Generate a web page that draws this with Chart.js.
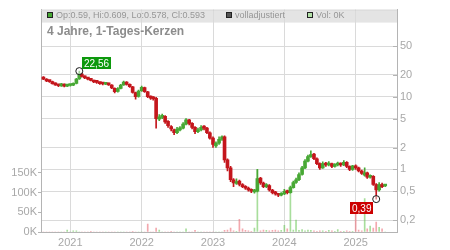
<!DOCTYPE html>
<html lang="de">
<head>
<meta charset="utf-8">
<title>4 Jahre, 1-Tages-Kerzen</title>
<script src="https://cdn.jsdelivr.net/npm/chart.js@4.4.1/dist/chart.umd.min.js"></script>
<style>
  html, body { margin: 0; padding: 0; background: #fff; }
  #wrap { width: 450px; height: 250px; }
</style>
</head>
<body>
<div id="wrap"><canvas id="priceChart" width="450" height="250"></canvas></div>
<script>
// ==========================================
// DATA (half-monthly candles)
// ==========================================

const dates = [
  "2020-08-16", "2020-09-01", "2020-09-16", "2020-10-01", "2020-10-16", "2020-11-01", "2020-11-16", "2020-12-01", "2020-12-16",
  "2021-01-01", "2021-01-16", "2021-02-01", "2021-02-16", "2021-03-01", "2021-03-16", "2021-04-01", "2021-04-16", "2021-05-01", "2021-05-16", "2021-06-01", "2021-06-16",
  "2021-07-01", "2021-07-16", "2021-08-01", "2021-08-16", "2021-09-01", "2021-09-16", "2021-10-01", "2021-10-16", "2021-11-01", "2021-11-16", "2021-12-01", "2021-12-16",
  "2022-01-01", "2022-01-16", "2022-02-01", "2022-02-16", "2022-03-01", "2022-03-16", "2022-04-01", "2022-04-16", "2022-05-01", "2022-05-16", "2022-06-01", "2022-06-16",
  "2022-07-01", "2022-07-16", "2022-08-01", "2022-08-16", "2022-09-01", "2022-09-16", "2022-10-01", "2022-10-16", "2022-11-01", "2022-11-16", "2022-12-01", "2022-12-16",
  "2023-01-01", "2023-01-16", "2023-02-01", "2023-02-16", "2023-03-01", "2023-03-16", "2023-04-01", "2023-04-16", "2023-05-01", "2023-05-16", "2023-06-01", "2023-06-16",
  "2023-07-01", "2023-07-16", "2023-08-01", "2023-08-16", "2023-09-01", "2023-09-16", "2023-10-01", "2023-10-16", "2023-11-01", "2023-11-16", "2023-12-01", "2023-12-16",
  "2024-01-01", "2024-01-16", "2024-02-01", "2024-02-16", "2024-03-01", "2024-03-16", "2024-04-01", "2024-04-16", "2024-05-01", "2024-05-16", "2024-06-01", "2024-06-16",
  "2024-07-01", "2024-07-16", "2024-08-01", "2024-08-16", "2024-09-01", "2024-09-16", "2024-10-01", "2024-10-16", "2024-11-01", "2024-11-16", "2024-12-01", "2024-12-16",
  "2025-01-01", "2025-01-16", "2025-02-01", "2025-02-16", "2025-03-01", "2025-03-16", "2025-04-01", "2025-04-16", "2025-05-01", "2025-05-16", "2025-06-01"
];

const openValues = [
  18.6, 17.5, 16.4, 16.1, 15.0, 14.5, 14.1, 14.9, 14.0,
  14.3, 14.4, 15.3, 17.6, 20.6, 19.1, 18.0, 17.6, 16.7, 15.9, 15.7, 15.1,
  14.9, 15.3, 14.5, 13.1, 11.9, 13.0, 14.6, 15.9, 14.9, 13.7, 11.4, 10.1,
  12.1, 13.4, 11.7, 10.0, 9.5, 9.5, 4.9, 5.2, 5.4, 4.6, 3.9, 3.5,
  3.2, 3.5, 3.7, 4.2, 4.8, 4.3, 3.8, 3.3, 3.5, 3.9, 3.7, 3.2,
  2.7, 2.1, 2.3, 2.6, 2.8, 1.35, 1.05, 0.72, 0.64, 0.69, 0.62, 0.58,
  0.55, 0.52, 0.49, 0.5, 0.76, 0.65, 0.58, 0.6, 0.52, 0.48, 0.46, 0.44,
  0.46, 0.5, 0.48, 0.56, 0.66, 0.72, 0.85, 1.05, 1.3, 1.5, 1.62, 1.4,
  1.2, 1.05, 1.21, 1.15, 1.2, 1.1, 1.15, 1.2, 1.15, 1.25, 1.1, 1.0,
  1.12, 1.05, 0.95, 0.83, 0.9, 0.78, 0.8, 0.62, 0.52, 0.62, 0.59
];

const highValues = [
  19.0, 17.8, 16.9, 16.4, 15.6, 14.9, 15.3, 15.1, 14.8,
  14.9, 15.6, 18.0, 22.56, 21.2, 19.4, 18.6, 17.9, 17.0, 16.4, 16.0, 15.6,
  15.8, 15.5, 14.7, 13.3, 13.4, 14.9, 16.4, 16.2, 15.1, 13.9, 11.6, 12.4,
  14.0, 13.6, 11.9, 10.3, 10.1, 9.8, 5.7, 5.8, 5.5, 4.7, 4.0, 3.6,
  3.8, 3.9, 4.4, 5.0, 4.9, 4.4, 3.9, 3.7, 4.0, 4.0, 3.8, 3.3,
  2.8, 2.4, 2.8, 2.9, 2.9, 1.4, 1.1, 0.75, 0.74, 0.71, 0.64, 0.6,
  0.57, 0.54, 0.53, 1.0, 0.78, 0.67, 0.64, 0.62, 0.53, 0.5, 0.47, 0.48,
  0.53, 0.52, 0.59, 0.69, 0.76, 0.9, 1.1, 1.36, 1.58, 1.8, 1.66, 1.44,
  1.23, 1.27, 1.25, 1.28, 1.22, 1.2, 1.26, 1.23, 1.32, 1.28, 1.12, 1.14,
  1.16, 1.08, 0.98, 1.05, 0.92, 0.84, 0.82, 0.64, 0.66, 0.65, 0.609
];

const lowValues = [
  17.2, 16.2, 15.8, 14.9, 14.3, 13.8, 13.9, 13.7, 13.8,
  14.0, 14.2, 15.0, 17.3, 18.6, 17.8, 17.1, 16.5, 15.6, 15.3, 14.8, 14.6,
  14.7, 14.3, 12.9, 11.3, 11.6, 12.8, 14.3, 14.5, 13.5, 11.2, 9.3, 9.9,
  11.9, 11.5, 9.7, 9.2, 9.0, 3.7, 4.7, 5.0, 4.3, 3.8, 3.4, 3.0,
  3.1, 3.4, 3.6, 4.1, 4.1, 3.6, 3.1, 3.2, 3.4, 3.5, 3.1, 2.6,
  2.0, 2.0, 2.2, 2.5, 1.25, 0.95, 0.68, 0.58, 0.62, 0.59, 0.56, 0.53,
  0.5, 0.48, 0.47, 0.49, 0.62, 0.56, 0.56, 0.5, 0.46, 0.44, 0.42, 0.43,
  0.45, 0.46, 0.47, 0.55, 0.64, 0.7, 0.83, 1.02, 1.27, 1.46, 1.36, 1.16,
  1.0, 1.03, 1.1, 1.12, 1.06, 1.07, 1.12, 1.1, 1.13, 1.06, 0.96, 0.97,
  1.0, 0.92, 0.85, 0.81, 0.75, 0.76, 0.6, 0.39, 0.5, 0.56, 0.578
];

const closeValues = [
  17.5, 16.5, 16.2, 15.2, 14.6, 14.2, 14.8, 14.0, 14.4,
  14.5, 15.2, 17.5, 20.5, 19.0, 18.2, 17.5, 16.8, 16.0, 15.8, 15.2, 15.0,
  15.3, 14.6, 13.2, 11.8, 13.0, 14.5, 16.0, 14.8, 13.8, 11.5, 10.0, 12.0,
  13.5, 11.8, 10.0, 9.6, 9.4, 5.0, 5.3, 5.5, 4.5, 4.0, 3.6, 3.2,
  3.6, 3.7, 4.2, 4.8, 4.3, 3.8, 3.3, 3.5, 3.8, 3.7, 3.2, 2.7,
  2.2, 2.3, 2.6, 2.8, 1.35, 1.05, 0.72, 0.65, 0.68, 0.62, 0.58, 0.55,
  0.52, 0.5, 0.5, 0.75, 0.65, 0.58, 0.6, 0.52, 0.48, 0.46, 0.44, 0.46,
  0.5, 0.48, 0.56, 0.66, 0.72, 0.85, 1.05, 1.3, 1.5, 1.6, 1.4, 1.2,
  1.05, 1.2, 1.15, 1.2, 1.1, 1.15, 1.2, 1.15, 1.25, 1.1, 1.0, 1.12,
  1.05, 0.95, 0.88, 0.9, 0.78, 0.8, 0.62, 0.52, 0.62, 0.58, 0.593
];

// volume in thousands
const volumeValues = [
  0, 0, 0, 0, 0, 0, 0, 0, 5,
  0, 3, 3, 0, 0, 0, 0, 1, 0, 0, 0, 0,
  0, 0, 0, 0, 0, 0, 0, 0, 0, 1, 0, 0,
  0, 0, 20, 0, 0, 10, 5, 0, 0, 0, 2, 0,
  0, 0, 0, 8, 0, 0, 4, 0, 0, 0, 0, 0,
  0, 0, 0, 0, 4, 5, 10, 3, 2, 32, 8, 4,
  3, 2, 10, 158, 3, 5, 4, 3, 4, 5, 3, 4,
  17, 8, 115, 5, 30, 4, 6, 3, 5, 4, 3, 2,
  3, 3, 2, 4, 3, 2, 6, 2, 1, 3, 2, 2,
  47, 5, 3, 85, 8, 15, 10, 25, 12, 8, 0
];

const yearTicks = [2021, 2022, 2023, 2024, 2025];
const priceTicks = [0.2, 0.5, 1, 2, 5, 10, 20, 50];
const volumeTicks = [0, 50000, 100000, 150000];

const chartTitle = "4 Jahre, 1-Tages-Kerzen";

// ==========================================
// HELPERS
// ==========================================

const FONT = "'Liberation Sans', Arial, sans-serif";
const UP_COLOR = "#47a834";
const DOWN_COLOR = "#c4161c";
const GRID_COLOR = "#dadada";
const AXIS_COLOR = "#b4b4b4";
const TICK_COLOR = "#a8a8a8";

function toYear(dateStr) {
  const [y, m, d] = dateStr.split("-").map(Number);
  const start = Date.UTC(y, 0, 1);
  const end = Date.UTC(y + 1, 0, 1);
  return y + (Date.UTC(y, m - 1, d) - start) / (end - start);
}

function isUp(i) {
  return closeValues[i] >= openValues[i];
}

function formatDe(value) {
  return String(value).replace(".", ",");
}

const xValues = dates.map(toYear);
const last = dates.length - 1;

// highest high / lowest low for the markers
let peakIdx = 0;
let lowIdx = 0;
highValues.forEach((v, i) => { if (v > highValues[peakIdx]) peakIdx = i; });
lowValues.forEach((v, i) => { if (v < lowValues[lowIdx]) lowIdx = i; });

// ==========================================
// DECORATION PLUGIN (legend row, title, tags)
// ==========================================

function drawTag(ctx, text, x, y, color) {
  ctx.font = "10px " + FONT;
  const w = Math.round(ctx.measureText(text).width) + 4;
  ctx.fillStyle = color;
  ctx.fillRect(x, y, w, 12);
  ctx.fillStyle = "#ffffff";
  ctx.textAlign = "left";
  ctx.textBaseline = "alphabetic";
  ctx.fillText(text, x + 2, y + 10);
  return w;
}

const decorPlugin = {
  id: "decor",
  beforeDraw(chart) {
    const { ctx, chartArea } = chart;
    ctx.save();
    ctx.fillStyle = "#e4e4e4";
    ctx.fillRect(chartArea.left, chartArea.top + 1, chartArea.right - chartArea.left, 12);
    ctx.restore();
  },
  beforeDatasetsDraw(chart) {
    const { ctx, chartArea } = chart;
    const left = chartArea.left;
    ctx.save();

    ctx.strokeStyle = "#cfcfcf";
    ctx.lineWidth = 1;
    ctx.beginPath();
    ctx.moveTo(left, chartArea.top + 0.5);
    ctx.lineTo(chartArea.right, chartArea.top + 0.5);
    ctx.stroke();

    // short tick marks on the inside of the price axis
    const ys = chart.scales.yPrice;
    ctx.strokeStyle = AXIS_COLOR;
    ctx.beginPath();
    priceTicks.forEach((v) => {
      const y = Math.round(ys.getPixelForValue(v)) + 0.5;
      ctx.moveTo(chartArea.right - 4, y);
      ctx.lineTo(chartArea.right, y);
    });
    ctx.stroke();

    const legend = [
      { x: left + 6, fill: UP_COLOR, text: `Op:${openValues[last]}, Hi:${highValues[last]}, Lo:${lowValues[last]}, Cl:${closeValues[last]}` },
      { x: left + 185, fill: "#555555", text: "volladjustiert" },
      { x: left + 266, fill: "#b3e2a8", text: `Vol: ${volumeValues[last]}K` },
    ];
    ctx.font = "9px " + FONT;
    ctx.textBaseline = "alphabetic";
    legend.forEach((item) => {
      ctx.fillStyle = item.fill;
      ctx.fillRect(item.x, 12, 6, 6);
      ctx.strokeStyle = "#222222";
      ctx.strokeRect(item.x + 0.5, 12.5, 5, 5);
      ctx.fillStyle = "#969696";
      ctx.fillText(item.text, item.x + 9, 18);
    });

    ctx.font = "bold 12px " + FONT;
    ctx.fillStyle = "#8c8c8c";
    ctx.fillText(chartTitle, left + 6, 35);
    ctx.restore();
  },
  afterDatasetsDraw(chart) {
    const { ctx } = chart;
    const xs = chart.scales.x;
    const ys = chart.scales.yPrice;
    ctx.save();

    const px = xs.getPixelForValue(xValues[peakIdx]);
    const py = ys.getPixelForValue(highValues[peakIdx]);
    drawTag(ctx, formatDe(highValues[peakIdx].toFixed(2)), Math.round(px + 3), Math.round(py - 14), "#0d990d");

    const lx = xs.getPixelForValue(xValues[lowIdx]);
    const ly = ys.getPixelForValue(lowValues[lowIdx]);
    const text = formatDe(lowValues[lowIdx].toFixed(2));
    ctx.font = "10px " + FONT;
    const w = Math.round(ctx.measureText(text).width) + 4;
    drawTag(ctx, text, Math.round(lx - 3 - w), Math.round(ly + 3), "#cc0000");
    ctx.restore();
  },
};

// ==========================================
// CHART
// ==========================================

function initChart() {
  const ctx = document.getElementById("priceChart");
  Chart.defaults.font.family = FONT;

  const wicks = xValues.map((x, i) => ({ x: x, y: [lowValues[i], highValues[i]] }));
  const bodies = xValues.map((x, i) => ({ x: x, y: [openValues[i], closeValues[i]] }));
  const volumes = xValues.map((x, i) => ({ x: x, y: volumeValues[i] * 1000 }));
  const candleColors = xValues.map((x, i) => (isUp(i) ? UP_COLOR : DOWN_COLOR));
  const volumeColors = xValues.map((x, i) =>
    isUp(i) ? "rgba(110, 200, 90, 0.6)" : "rgba(235, 110, 120, 0.6)"
  );

  new Chart(ctx.getContext("2d"), {
    type: "bar",
    data: {
      datasets: [
        {
          type: "scatter",
          data: [
            { x: xValues[peakIdx], y: highValues[peakIdx] },
            { x: xValues[lowIdx], y: lowValues[lowIdx] },
          ],
          yAxisID: "yPrice",
          pointRadius: 3.5,
          pointBorderWidth: 1,
          pointBorderColor: "#1a1a1a",
          pointBackgroundColor: "rgba(255, 255, 255, 0.5)",
          order: 0,
        },
        {
          data: bodies,
          yAxisID: "yPrice",
          backgroundColor: candleColors,
          barThickness: 3,
          minBarLength: 2,
          grouped: false,
          order: 1,
        },
        {
          data: wicks,
          yAxisID: "yPrice",
          backgroundColor: candleColors,
          barThickness: 1,
          grouped: false,
          order: 2,
        },
        {
          data: volumes,
          yAxisID: "yVol",
          backgroundColor: volumeColors,
          barThickness: 1,
          grouped: false,
          order: 3,
        },
      ],
    },
    options: {
      responsive: false,
      animation: false,
      layout: { padding: { top: 6, left: 0, right: 0, bottom: 0 } },
      plugins: {
        legend: { display: false },
        tooltip: { enabled: false },
      },
      scales: {
        x: {
          type: "linear",
          min: 2020.589,
          max: 2025.579,
          offset: false,
          grid: { color: GRID_COLOR, drawTicks: false, offset: false },
          border: { color: AXIS_COLOR },
          afterBuildTicks: (scale) => {
            scale.ticks = yearTicks.map((v) => ({ value: v }));
          },
          afterFit: (scale) => {
            scale.height = 18;
          },
          ticks: {
            autoSkip: false,
            maxRotation: 0,
            padding: 4,
            color: TICK_COLOR,
            font: { size: 11 },
            callback: (v) => String(v),
          },
        },
        yVol: {
          type: "linear",
          position: "left",
          min: 0,
          max: 565000,
          grid: { drawOnChartArea: false, drawTicks: true, tickLength: 3, color: AXIS_COLOR },
          border: { color: AXIS_COLOR },
          afterBuildTicks: (scale) => {
            scale.ticks = volumeTicks.map((v) => ({ value: v }));
          },
          afterFit: (scale) => {
            scale.width = 41;
          },
          ticks: {
            padding: 1,
            color: TICK_COLOR,
            font: { size: 11 },
            callback: (v) => v / 1000 + "K",
          },
        },
        yPrice: {
          type: "logarithmic",
          position: "right",
          min: 0.1374,
          max: 158.7,
          grid: { color: GRID_COLOR, drawTicks: false },
          border: { color: AXIS_COLOR },
          afterBuildTicks: (scale) => {
            scale.ticks = priceTicks.map((v) => ({ value: v }));
          },
          afterFit: (scale) => {
            scale.width = 53;
          },
          ticks: {
            padding: 3,
            color: TICK_COLOR,
            font: { size: 11 },
            callback: (v) => formatDe(v),
          },
        },
      },
    },
    plugins: [decorPlugin],
  });
}

document.addEventListener("DOMContentLoaded", function () {
  initChart();
});
</script>
</body>
</html>
